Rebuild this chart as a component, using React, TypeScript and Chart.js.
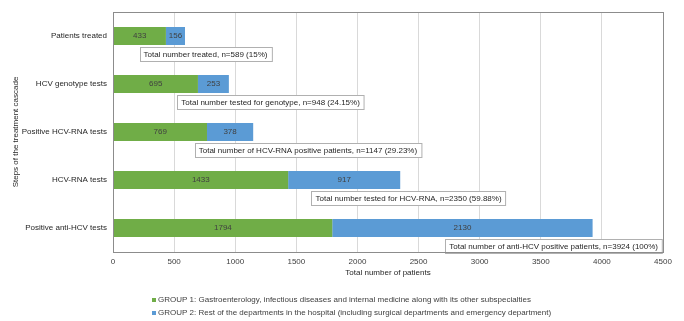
import React, { useEffect, useRef } from "react";
import { Chart, registerables } from "chart.js";

Chart.register(...registerables);

const categories = [
  "Patients treated",
  "HCV genotype tests",
  "Positive HCV-RNA tests",
  "HCV-RNA tests",
  "Positive anti-HCV tests",
];
const group1 = [433, 695, 769, 1433, 1794];
const group2 = [156, 253, 378, 917, 2130];
const totalLabels = [
  "Total number treated, n=589 (15%)",
  "Total number tested for genotype, n=948 (24.15%)",
  "Total number of HCV-RNA positive patients, n=1147 (29.23%)",
  "Total number tested for HCV-RNA, n=2350 (59.88%)",
  "Total number of anti-HCV positive patients, n=3924 (100%)",
];
// centre of each total label box, in data units of the x axis
const totalLabelAt = [757, 1289, 1595, 2418, 3605];
const legendLabels = [
  "GROUP 1: Gastroenterology, infectious diseases and internal medicine along with its other subspecialties",
  "GROUP 2: Rest of the departments in the hospital (including surgical departments and emergency department)",
];
const xMax = 4500;
const xStep = 500;

const FONT = "'Liberation Sans', Arial, sans-serif";
const GREEN = "#70AD47";
const BLUE = "#5B9BD5";

const annotPlugin = {
  id: "annot",
  afterDatasetsDraw(chart: any) {
    const ctx = chart.ctx;
    const xs = chart.scales.x;
    const ys = chart.scales.y;
    ctx.save();
    ctx.font = `8px ${FONT}`;
    ctx.fillStyle = "#404040";
    ctx.textAlign = "center";
    ctx.textBaseline = "middle";
    chart.data.datasets.forEach((ds: any, di: number) => {
      const meta = chart.getDatasetMeta(di);
      meta.data.forEach((el: any, i: number) => {
        const cx = (el.x + el.base) / 2;
        ctx.fillText(String(ds.data[i]), cx, el.y);
      });
    });
    totalLabels.forEach((t, i) => {
      const cx = xs.getPixelForValue(totalLabelAt[i]);
      const cy = ys.getPixelForValue(i) + 18;
      const w = ctx.measureText(t).width + 8;
      const h = 14;
      const x0 = Math.round(cx - w / 2) + 0.5;
      const y0 = Math.round(cy - h / 2) + 0.5;
      ctx.fillStyle = "#ffffff";
      ctx.fillRect(x0, y0, w, h);
      ctx.strokeStyle = "#b0b0b0";
      ctx.lineWidth = 1;
      ctx.strokeRect(x0, y0, w, h);
      ctx.fillStyle = "#262626";
      ctx.fillText(t, cx, cy + 0.5);
    });
    ctx.restore();
  },
  afterDraw(chart: any) {
    const ctx = chart.ctx;
    const a = chart.chartArea;
    ctx.save();
    ctx.strokeStyle = "#8c8c8c";
    ctx.lineWidth = 1;
    ctx.strokeRect(a.left + 0.5, a.top + 0.5, a.right - a.left, a.bottom - a.top);
    ctx.font = `8px ${FONT}`;
    ctx.textAlign = "left";
    ctx.textBaseline = "middle";
    const colors = [GREEN, BLUE];
    legendLabels.forEach((t, i) => {
      const y = 300 + i * 13;
      ctx.fillStyle = colors[i];
      ctx.fillRect(152, y - 2, 4, 4);
      ctx.fillStyle = "#404040";
      ctx.fillText(t, 158, y);
    });
    ctx.restore();
  },
};

export default function App() {
  const ref = useRef<HTMLCanvasElement>(null);
  useEffect(() => {
    document.body.style.margin = "0";
    const chart = new Chart(ref.current as HTMLCanvasElement, {
      type: "bar",
      data: {
        labels: categories,
        datasets: [
          {
            label: legendLabels[0],
            data: group1,
            backgroundColor: GREEN,
            categoryPercentage: 1,
            barPercentage: 0.375,
          },
          {
            label: legendLabels[1],
            data: group2,
            backgroundColor: BLUE,
            categoryPercentage: 1,
            barPercentage: 0.375,
          },
        ],
      },
      options: {
        indexAxis: "y",
        responsive: false,
        animation: false,
        devicePixelRatio: 1,
        layout: { padding: { top: 12, right: 21, bottom: 41, left: 0 } },
        plugins: { legend: { display: false }, tooltip: { enabled: false } },
        scales: {
          x: {
            stacked: true,
            min: 0,
            max: xMax,
            ticks: {
              stepSize: xStep,
              font: { family: FONT, size: 8 },
              color: "#404040",
              padding: 5,
              maxRotation: 0,
              callback: (v: any) => String(v),
            },
            grid: { color: "#d9d9d9", drawTicks: false },
            border: { display: false },
            title: {
              display: true,
              text: "Total number of patients",
              font: { family: FONT, size: 8 },
              color: "#262626",
              padding: { top: 0, bottom: 2 },
            },
            afterFit(scale: any) {
              scale.height = 28;
            },
          },
          y: {
            stacked: true,
            ticks: {
              font: { family: FONT, size: 8 },
              color: "#262626",
              padding: 6,
            },
            grid: { display: false, drawTicks: false },
            border: { display: false },
            title: {
              display: true,
              text: "Steps of the treatment cascade",
              font: { family: FONT, size: 8 },
              color: "#262626",
              padding: { top: 11, bottom: 0 },
            },
            afterFit(scale: any) {
              scale.width = 113;
            },
          },
        },
      },
      plugins: [annotPlugin],
    } as any);
    return () => chart.destroy();
  }, []);
  return (
    <div style={{ width: 684, height: 321, background: "#fff" }}>
      <canvas ref={ref} width={684} height={321} />
    </div>
  );
}
